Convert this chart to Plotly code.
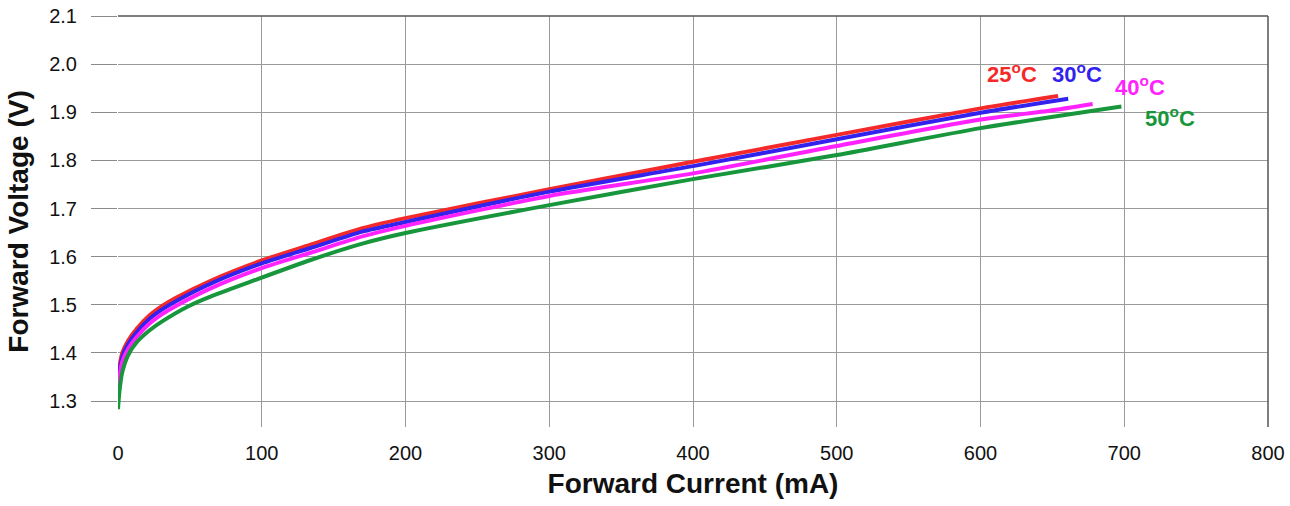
import plotly.graph_objects as go

# Forward current (mA) / forward voltage (V) per temperature
i_25 = [0, 1, 3, 7, 13, 22, 31, 40, 66, 100, 134, 170, 200, 300, 400, 500, 600, 654]
v_25 = [1.335, 1.37, 1.40, 1.425, 1.45, 1.478, 1.498, 1.514, 1.552, 1.592, 1.625, 1.659, 1.680, 1.740, 1.797, 1.853, 1.908, 1.934]

i_30 = [0, 1, 3, 7, 13, 22, 31, 40, 66, 100, 134, 170, 200, 300, 400, 500, 600, 661]
v_30 = [1.325, 1.36, 1.392, 1.418, 1.443, 1.471, 1.491, 1.507, 1.546, 1.586, 1.618, 1.652, 1.672, 1.735, 1.788, 1.844, 1.899, 1.928]

i_40 = [0, 1, 3, 7, 13, 22, 31, 40, 66, 100, 134, 170, 200, 300, 400, 500, 600, 648, 678]
v_40 = [1.315, 1.35, 1.382, 1.408, 1.433, 1.461, 1.481, 1.497, 1.536, 1.576, 1.608, 1.642, 1.664, 1.726, 1.773, 1.830, 1.885, 1.903, 1.917]

i_50 = [0, 1, 3, 7, 13, 22, 31, 49, 66, 95, 134, 170, 200, 300, 400, 500, 600, 698]
v_50 = [1.283, 1.32, 1.36, 1.395, 1.422, 1.447, 1.466, 1.497, 1.519, 1.551, 1.593, 1.627, 1.649, 1.707, 1.761, 1.811, 1.867, 1.912]

series_names = ["25<sup>o</sup>C", "30<sup>o</sup>C", "40<sup>o</sup>C", "50<sup>o</sup>C"]
series_colors = ["#F42A2A", "#3322EE", "#FF22FF", "#18963C"]
label_x = [622, 667, 711, 732]
label_y = [1.981, 1.981, 1.955, 1.89]

x_ticks = [0, 100, 200, 300, 400, 500, 600, 700, 800]
y_ticks = [1.3, 1.4, 1.5, 1.6, 1.7, 1.8, 1.9, 2.0, 2.1]
y_ticktext = ["1.3", "1.4", "1.5", "1.6", "1.7", "1.8", "1.9", "2.0", "2.1"]

data = [(i_25, v_25), (i_30, v_30), (i_40, v_40), (i_50, v_50)]

fig = go.Figure()
for (xs, ys), name, col in zip(data, series_names, series_colors):
    fig.add_trace(go.Scatter(x=xs, y=ys, mode="lines", name=name,
                             line=dict(color=col, width=4, shape="spline", smoothing=0.6),
                             showlegend=False))

for name, col, lx, ly in zip(series_names, series_colors, label_x, label_y):
    fig.add_annotation(x=lx, y=ly, text="<b>" + name + "</b>", showarrow=False,
                       font=dict(family="Liberation Sans, Arial", size=22, color=col),
                       xanchor="center", yanchor="middle")

# top and right frame lines
fig.add_shape(type="line", xref="paper", yref="paper", x0=0, x1=1, y0=1, y1=1,
              line=dict(color="#555555", width=1.5))
fig.add_shape(type="line", xref="paper", yref="paper", x0=1, x1=1, y0=0, y1=1,
              line=dict(color="#555555", width=1.5))

fig.update_layout(
    width=1290, height=506,
    margin=dict(l=118, r=22, t=16, b=79),
    paper_bgcolor="white", plot_bgcolor="white",
    font=dict(family="Liberation Sans, Arial", color="#111111"),
)
fig.update_xaxes(
    range=[0, 800], tickvals=x_ticks,
    showgrid=True, gridcolor="#9a9a9a", gridwidth=1, zeroline=False,
    ticks="", showline=False, automargin=False,
    tickfont=dict(size=20), ticklabelstandoff=12,
    title=dict(text="<b>Forward Current (mA)</b>", font=dict(size=28), standoff=10),
)
fig.update_yaxes(
    range=[1.246, 2.1], tickvals=y_ticks, ticktext=y_ticktext,
    showgrid=True, gridcolor="#9a9a9a", gridwidth=1, zeroline=False,
    ticks="outside", ticklen=26, tickcolor="#8a8a8a", tickwidth=1,
    showline=False, automargin=False,
    tickfont=dict(size=20), ticklabelstandoff=10,
    title=dict(text="<b>Forward Voltage (V)</b>", font=dict(size=28), standoff=12),
)

fig.write_html("out.html")
